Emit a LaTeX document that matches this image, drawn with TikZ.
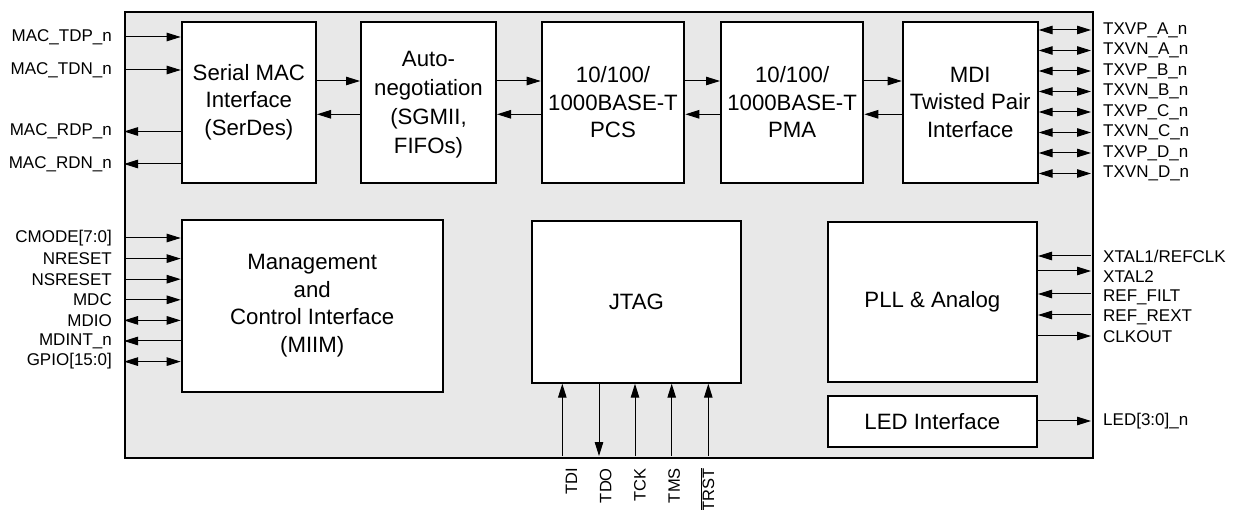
\documentclass[tikz,border=0pt]{standalone}
\usepackage{fontspec}
\setmainfont{Liberation Sans}
\usetikzlibrary{arrows.meta}
\definecolor{chipgray}{RGB}{232,232,232}
\begin{document}
\begin{tikzpicture}[x=1pt,y=-1pt,
  chipframe/.style={draw, line width=2.4pt, fill=chipgray, inner sep=0pt, anchor=north west},
  blk/.style={draw, line width=2pt, fill=white, inner sep=0pt, anchor=north west, align=center,
    font=\fontsize{22.2}{27.6}\selectfont},
  blktext/.style={inner sep=0pt, align=center, font=\fontsize{22.2}{29}\selectfont},
  arr/.style={line width=1pt, -{Triangle[length=14pt,width=8.5pt]}},
  barr/.style={line width=1pt, {Triangle[length=14pt,width=8.5pt]}-{Triangle[length=14pt,width=8.5pt]}},
  lbl/.style={inner sep=0pt, font=\fontsize{17}{20}\selectfont},
  jlbl/.style={inner sep=0pt, rotate=90, anchor=base east, font=\fontsize{16.5}{20}\selectfont}]
\useasboundingbox (0,0) rectangle (1237,510);
% chip outline
\node[chipframe, minimum width=968pt, minimum height=446pt] (chip) at (124,11) {};
% blocks
\node[blk, minimum width=134.3pt, minimum height=161pt] (smac) at (180.7,20.7) {Serial MAC\\Interface\\(SerDes)};
\node[blk, minimum width=135pt, minimum height=161pt] (auto) at (360,20.7) {};
\node[blktext] (autot) at ([yshift=-2.5pt]auto.center) {Auto-\\negotiation\\(SGMII,\\FIFOs)};
\node[blk, minimum width=142.6pt, minimum height=161pt] (pcs) at (540.7,20.7) {10/100/\\1000BASE-T\\PCS};
\node[blk, minimum width=142.3pt, minimum height=161pt] (pma) at (720,20.7) {10/100/\\1000BASE-T\\PMA};
\node[blk, minimum width=135pt, minimum height=161pt] (mdi) at (901.7,20.7) {MDI\\Twisted Pair\\Interface};
\node[blk, minimum width=261pt, minimum height=171.7pt] (mgmt) at (180.7,219) {Management\\and\\Control Interface\\(MIIM)};
\node[blk, minimum width=209.3pt, minimum height=161.7pt] (jtag) at (530.7,220) {JTAG};
\node[blk, minimum width=209.3pt, minimum height=160.3pt] (pll) at (826.7,220.7) {PLL \& Analog};
\node[blk, minimum width=209.3pt, minimum height=50.7pt] (led) at (826.7,395) {LED Interface};
% rows for inter-block arrows
\coordinate (yF) at (0,81);
\coordinate (yB) at (0,114.3);
\foreach \a/\b in {smac/auto, auto/pcs, pcs/pma, pma/mdi}{
  \draw[arr] (\a.east |- yF) -- (\b.west |- yF);
  \draw[arr] (\b.west |- yB) -- (\a.east |- yB);
}
% left MAC signals
\foreach \n/\y/\t in {TDP/37/MAC\_TDP\_n, TDN/70/MAC\_TDN\_n, RDP/131.5/MAC\_RDP\_n, RDN/164/MAC\_RDN\_n}{
  \coordinate (p\n) at (124,\y);
  \node[lbl, anchor=east] (l\n) at (112,\y) {\t};
}
\draw[arr] (pTDP) -- (pTDP -| smac.west);
\draw[arr] (pTDN) -- (pTDN -| smac.west);
\draw[arr] (pRDP -| smac.west) -- (pRDP);
\draw[arr] (pRDN -| smac.west) -- (pRDN);
% left management signals
\foreach \n/\y/\t in {CM/238/{CMODE[7:0]}, NR/258.6/NRESET, NSR/279.2/NSRESET, MDC/299.8/MDC, MDIO/320.4/MDIO, MDINT/341/MDINT\_n, GPIO/361.6/{GPIO[15:0]}}{
  \coordinate (p\n) at (124,\y);
  \node[lbl, anchor=east] (l\n) at (112,\y) {\t};
}
\draw[arr] (pCM) -- (pCM -| mgmt.west);
\draw[arr] (pNR) -- (pNR -| mgmt.west);
\draw[arr] (pNSR) -- (pNSR -| mgmt.west);
\draw[arr] (pMDC) -- (pMDC -| mgmt.west);
\draw[barr] (pMDIO) -- (pMDIO -| mgmt.west);
\draw[arr] (pMDINT -| mgmt.west) -- (pMDINT);
\draw[barr] (pGPIO) -- (pGPIO -| mgmt.west);
% right MDI signals
\foreach \n/\y/\t in {VPA/30/TXVP\_A\_n, VNA/50.5/TXVN\_A\_n, VPB/71/TXVP\_B\_n, VNB/91.5/TXVN\_B\_n, VPC/112/TXVP\_C\_n, VNC/132.5/TXVN\_C\_n, VPD/153/TXVP\_D\_n, VND/173.5/TXVN\_D\_n}{
  \coordinate (p\n) at (1091,\y);
  \node[lbl, anchor=west] (l\n) at (1103,\y) {\t};
  \draw[barr] (p\n -| mdi.east) -- (p\n);
}
% right PLL signals
\coordinate (pX1) at (1091,256);
\coordinate (pX2) at (1091,271);
\coordinate (pRF) at (1091,294);
\coordinate (pRR) at (1091,315);
\coordinate (pCK) at (1091,336);
\coordinate (pLED) at (1091,421);
\node[lbl, anchor=west] (lX1) at (1103,256) {XTAL1/REFCLK};
\node[lbl, anchor=west] (lX2) at (1103,277) {XTAL2};
\node[lbl, anchor=west] (lRF) at (1103,297) {REF\_FILT};
\node[lbl, anchor=west] (lRR) at (1103,317) {REF\_REXT};
\node[lbl, anchor=west] (lCK) at (1103,337) {CLKOUT};
\node[lbl, anchor=west] (lLED) at (1103,421) {LED[3:0]\_n};
\draw[arr] (pX1) -- (pX1 -| pll.east);
\draw[arr] (pX2 -| pll.east) -- (pX2);
\draw[arr] (pRF) -- (pRF -| pll.east);
\draw[arr] (pRR) -- (pRR -| pll.east);
\draw[arr] (pCK -| pll.east) -- (pCK);
\draw[arr] (pLED -| led.east) -- (pLED);
% JTAG signals
\foreach \n/\x in {TDI/562.3, TDO/599, TCK/635, TMS/671.7, TRST/708.3}{
  \coordinate (p\n) at (\x,456);
}
\draw[arr] (pTDI) -- (pTDI |- jtag.south);
\draw[arr] (pTDO |- jtag.south) -- (pTDO);
\draw[arr] (pTCK) -- (pTCK |- jtag.south);
\draw[arr] (pTMS) -- (pTMS |- jtag.south);
\draw[arr] (pTRST) -- (pTRST |- jtag.south);
\node[jlbl] (lTDI) at (577,468) {TDI};
\node[jlbl] (lTDO) at (611.3,468) {TDO};
\node[jlbl] (lTCK) at (645.6,468) {TCK};
\node[jlbl] (lTMS) at (679.9,468) {TMS};
\node[jlbl] (lTRST) at (714,468) {$\overline{\mbox{TRST}}$};
\end{tikzpicture}
\end{document}
